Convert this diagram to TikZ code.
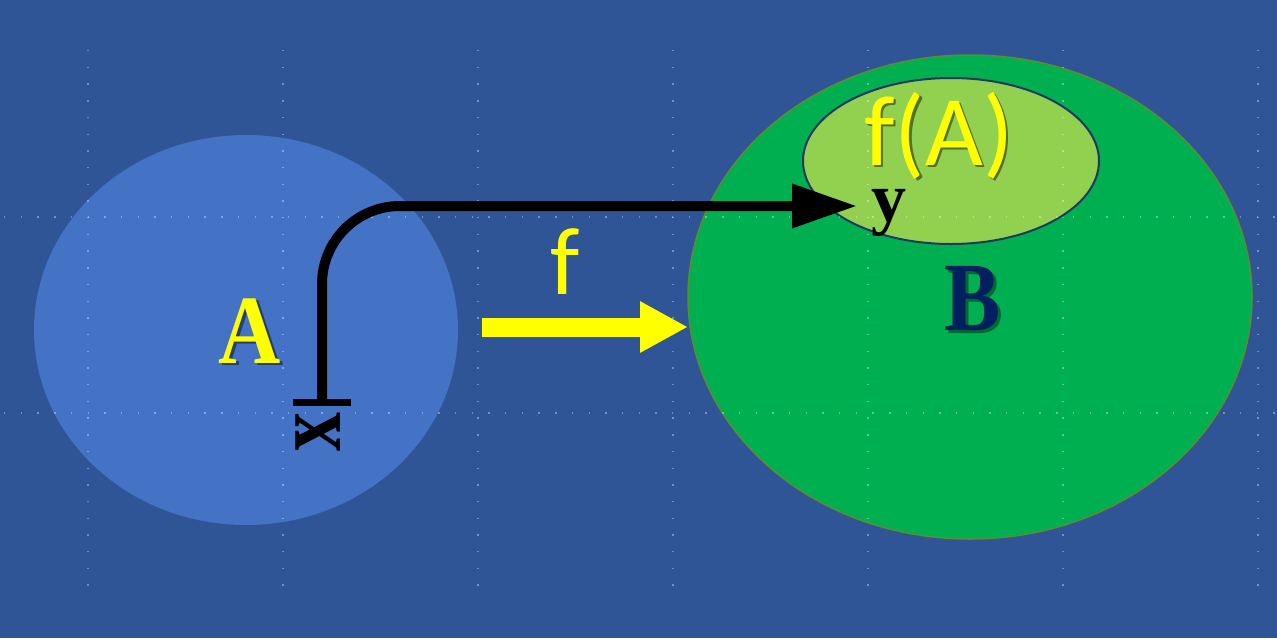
\documentclass[tikz,border=0pt]{standalone}
\usepackage{fontspec}
\setmainfont{Liberation Serif}
\newfontfamily\calib{Carlito}
\usetikzlibrary{shapes.geometric,arrows.meta}
\definecolor{bg}{HTML}{2F5597}
\definecolor{setA}{HTML}{4472C4}
\definecolor{setB}{HTML}{00B050}
\definecolor{setBline}{HTML}{5B8F2E}
\definecolor{img}{HTML}{92D050}
\definecolor{imgline}{HTML}{1F3864}
\definecolor{navy}{HTML}{002060}
\definecolor{yel}{HTML}{FFFF00}
\newcommand{\shadowed}[3]{\makebox[0pt][l]{\hspace{2.5pt}\raisebox{-2.5pt}{\textcolor{#1}{#3}}}\textcolor{#2}{#3}}
\tikzset{
  setshape/.style={ellipse, inner sep=0pt, outer sep=0pt},
  gridline/.style={white, opacity=0.35, line width=1.4pt, dash pattern=on 1.4pt off 15.3pt},
  biglabel/.style={inner sep=0pt, font=\bfseries\fontsize{98}{100}\selectfont},
  calibl/.style={inner sep=0pt, font=\calib\fontsize{100}{102}\selectfont, text=yel},
  conn/.style={line width=10pt, rounded corners=78pt, -{Triangle[length=65pt,width=42pt]}},
  maparrow/.style={yel, line width=19pt, -{Triangle[length=48pt,width=48pt]}}
}
\begin{document}
\begin{tikzpicture}[x=1pt,y=-1pt]
\useasboundingbox (0,0) rectangle (1277,638);
\fill[bg] (0,0) rectangle (1277,638);

% sets
\node[setshape, fill=setA, minimum width=424pt, minimum height=390pt] (A) at (246,330) {};
\node[setshape, fill=setB, draw=setBline, line width=1.5pt, minimum width=564pt, minimum height=484pt] (B) at (970,297) {};
\node[setshape, fill=img, draw=imgline, line width=2pt, minimum width=296pt, minimum height=166pt] (fA) at (951,161) {};

% faint grid guides
\foreach \gx in {88,283,478,673,868,1063,1258}
  \draw[gridline] (\gx,50) -- (\gx,594);
\foreach \gy in {217,413}
  \draw[gridline] (4,\gy) -- (1277,\gy);

% labels
\node[biglabel] (labA) at (250,332) {\scalebox{0.88}[1]{\shadowed{setA!55!black}{yel}{A}}};
\node[biglabel] (labB) at (973,300) {\scalebox{0.86}[1]{\shadowed{setB!60!black}{navy}{B}}};
\node[calibl, anchor=base] (labfA) at (939,165) {\shadowed{img!55!black}{yel}{f(A)}};
\node[calibl, anchor=base, font=\calib\fontsize{96}{98}\selectfont] (labf) at (565,294) {f};

% mapping arrow f
\coordinate (fstart) at (482,327);
\coordinate (fend) at (688,327);
\draw[maparrow] (fstart) -- (fend);

% element x and its image y
\node[fill=black, minimum width=58pt, minimum height=7pt, inner sep=0pt] (bar) at (322,402) {};
\node[inner sep=0pt, rotate=90, font=\bfseries\fontsize{78}{80}\selectfont] (labx) at (318,432) {\scalebox{1}[1.25]{x}};
\node[inner sep=0pt, anchor=base, text height=33pt, text depth=15pt, font=\bfseries\fontsize{70}{72}\selectfont] (laby) at (889,221) {y};
\coordinate (ytip) at (857,206);
\draw[conn] (bar.center) |- (ytip);
\end{tikzpicture}
\end{document}
